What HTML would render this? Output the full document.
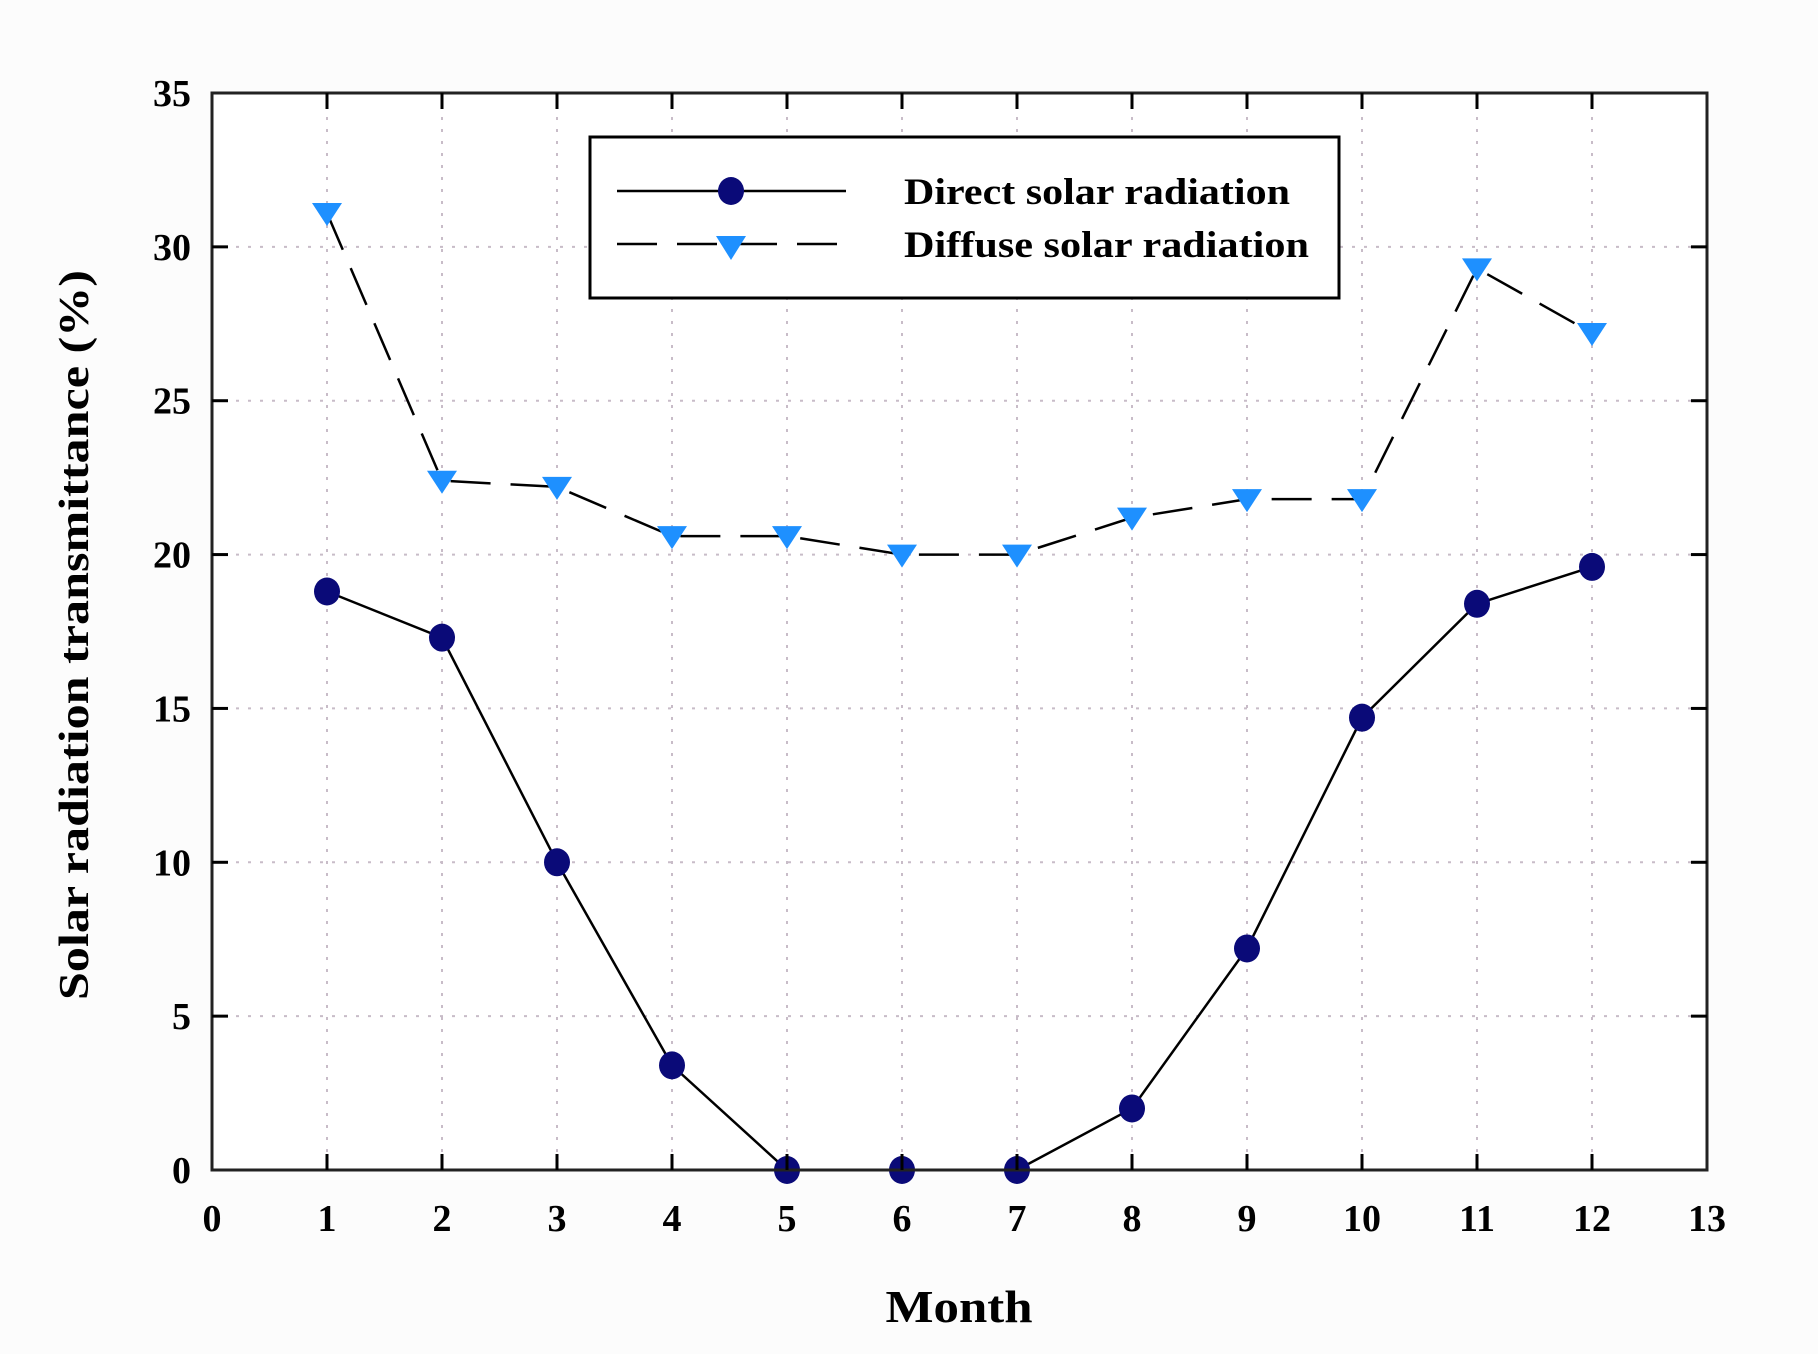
<!DOCTYPE html>
<html><head><meta charset="utf-8"><style>
html,body{margin:0;padding:0;background:#fff}
svg{display:block}
text{font-family:"Liberation Serif",serif;font-weight:bold;fill:#000}
</style></head><body>
<svg id="chart" width="1818" height="1354" viewBox="0 0 1818 1354" xmlns="http://www.w3.org/2000/svg">
<rect width="1818" height="1354" fill="#fcfcfc"/>
<rect x="212" y="93" width="1495" height="1077" fill="#fff"/>
<g id="grid"></g>
<g id="series"></g>
<rect x="212" y="93" width="1495" height="1077" fill="none" stroke="#222" stroke-width="3"/>
<g id="ticks"></g>
<text x="88" y="635" font-size="42" text-anchor="middle" textLength="730" lengthAdjust="spacingAndGlyphs" transform="rotate(-90 88 635)">Solar radiation transmittance (%)</text>
<text x="959" y="1322" font-size="46" text-anchor="middle" textLength="147" lengthAdjust="spacingAndGlyphs">Month</text>
<g>
<rect x="590" y="137" width="749" height="161" fill="#fff" stroke="#000" stroke-width="3"/>
<g>
<line x1="617" y1="191" x2="846" y2="191" stroke="#000" stroke-width="2.5"/>
<ellipse cx="731" cy="191" rx="13" ry="14" fill="#0a0a78"/>
<text x="904" y="204" font-size="37" textLength="386" lengthAdjust="spacingAndGlyphs">Direct solar radiation</text>
</g>
<g>
<line x1="617" y1="244" x2="846" y2="244" stroke="#000" stroke-width="2.5" stroke-dasharray="40,20"/>
<polygon points="716,236 746,236 731,260" fill="#1e90ff"/>
<text x="904" y="257" font-size="37" textLength="405" lengthAdjust="spacingAndGlyphs">Diffuse solar radiation</text>
</g>
</g>
</svg>
<script>
const months = [1,2,3,4,5,6,7,8,9,10,11,12];
const directValues = [18.8,17.3,10.0,3.4,0,0,0,2.0,7.2,14.7,18.4,19.6];
const diffuseValues = [31.1,22.4,22.2,20.6,20.6,20.0,20.0,21.2,21.8,21.8,29.3,27.2];
const xTickLabels = ["0","1","2","3","4","5","6","7","8","9","10","11","12","13"];
const yTickLabels = ["0","5","10","15","20","25","30","35"];

const NS = "http://www.w3.org/2000/svg";
const X0 = 212, X1 = 1707, Y0 = 1170, Y1 = 93;
function xScale(v){ return X0 + (v - 0) / 13 * (X1 - X0); }
function yScale(v){ return Y0 - (v - 0) / 35 * (Y0 - Y1); }
function mk(tag, attrs, parent){
  const e = document.createElementNS(NS, tag);
  for (const k in attrs) e.setAttribute(k, attrs[k]);
  parent.appendChild(e);
  return e;
}
const grid = document.getElementById('grid');
const ticks = document.getElementById('ticks');
const series = document.getElementById('series');

xTickLabels.forEach(function(lab){
  const v = +lab, x = xScale(v);
  if (v > 0 && v < 13) {
    const g = mk('line', {x1:x, y1:Y1, x2:x, y2:Y0, stroke:'#c8bcc8', 'stroke-width':2, 'stroke-dasharray':'3,9'}, grid);
    
    
    const t1 = mk('line', {x1:x, y1:Y0, x2:x, y2:Y0-16, stroke:'#000', 'stroke-width':3}, ticks);
    
    
    const t2 = mk('line', {x1:x, y1:Y1, x2:x, y2:Y1+16, stroke:'#000', 'stroke-width':3}, ticks);
    
    
  }
  const t = mk('text', {x:x, y:1231, 'font-size':38, 'text-anchor':'middle'}, ticks);
  t.textContent = lab;
  
  
});
yTickLabels.forEach(function(lab){
  const v = +lab, y = yScale(v);
  if (v > 0 && v < 35) {
    const g = mk('line', {x1:X0, y1:y, x2:X1, y2:y, stroke:'#c8bcc8', 'stroke-width':2, 'stroke-dasharray':'3,9'}, grid);
    
    
    const t1 = mk('line', {x1:X0, y1:y, x2:X0+16, y2:y, stroke:'#000', 'stroke-width':3}, ticks);
    
    
    const t2 = mk('line', {x1:X1, y1:y, x2:X1-16, y2:y, stroke:'#000', 'stroke-width':3}, ticks);
    
    
  }
  const t = mk('text', {x:191, y:y+13, 'font-size':38, 'text-anchor':'end'}, ticks);
  t.textContent = lab;
  
  
});

const diffPts = months.map(function(m,i){ return xScale(m)+','+yScale(diffuseValues[i]); }).join(' ');
const dl = mk('polyline', {points:diffPts, fill:'none', stroke:'#000', 'stroke-width':2.5, 'stroke-dasharray':'40,20'}, series);


const dirPts = months.map(function(m,i){ return xScale(m)+','+yScale(directValues[i]); }).join(' ');
const rl = mk('polyline', {points:dirPts, fill:'none', stroke:'#000', 'stroke-width':2.5}, series);



months.forEach(function(m,i){
  const x = xScale(m), y = yScale(diffuseValues[i]);
  const p = mk('polygon', {points:(x-15)+','+(y-10)+' '+(x+15)+','+(y-10)+' '+x+','+(y+13), fill:'#1e90ff'}, series);
  
  
});
months.forEach(function(m,i){
  const c = mk('ellipse', {cx:xScale(m), cy:yScale(directValues[i]), rx:13, ry:14, fill:'#0a0a78'}, series);
  
  
});
</script>
</body></html>
